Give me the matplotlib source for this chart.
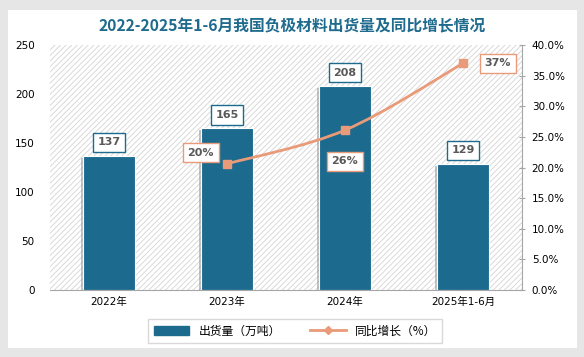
import numpy as np
import matplotlib
matplotlib.use("Agg")
import matplotlib.pyplot as plt
from matplotlib.patches import Rectangle, PathPatch, Patch
from matplotlib.lines import Line2D
from matplotlib.path import Path
from matplotlib.ticker import PercentFormatter
import matplotlib.patheffects as pe

plt.rcParams['font.family'] = ['DejaVu Sans', 'Noto Sans CJK SC']
plt.rcParams['hatch.linewidth'] = 0.6

# 数据
years = ['2022年', '2023年', '2024年', '2025年1-6月']
shipment = [137, 165, 208, 129]          # 出货量（万吨）
growth_years = [1, 2, 3]                  # 2023, 2024, 2025年1-6月
growth = [20.6, 26.1, 37.0]               # 同比增长（%）
growth_labels = ['20%', '26%', '37%']

bar_color = '#1c6b8f'
line_color = '#e99a78'
label_color = '#595959'

fig = plt.figure(figsize=(5.84, 3.57), dpi=100)
fig.patch.set_facecolor('#e6e6e6')
# 白色卡片
fig.add_artist(Rectangle((8/584, 1 - 348/357), 569/584, 338/357, transform=fig.transFigure,
                         facecolor='white', edgecolor='none', zorder=0))

ax = fig.add_axes([50/584, 1 - 290/357, 472/584, 245/357])
ax.set_facecolor('none')
ax.add_patch(Rectangle((0, 0), 1, 1, transform=ax.transAxes, facecolor='white',
                       edgecolor='#d4d4d4', hatch='//////', linewidth=0, zorder=0))

x = np.arange(len(years))
ax.bar(x, shipment, width=0.44, color=bar_color, edgecolor='white', linewidth=0.8, zorder=2,
       path_effects=[pe.SimplePatchShadow(offset=(-1.5, -1.5), shadow_rgbFace='#888888', alpha=0.5),
                     pe.Normal()])
ax.set_xlim(-0.5, 3.5)
ax.set_ylim(0, 250)
ax.set_yticks(range(0, 251, 50))
ax.set_xticks(x)
ax.set_xticklabels(years)
ax.tick_params(axis='y', length=0, labelsize=7.5, pad=11)
ax.tick_params(axis='x', length=0, labelsize=7.5, pad=5)
for s in ['top', 'right', 'left']:
    ax.spines[s].set_visible(False)
ax.spines['bottom'].set_color('#a6a6a6')

for xi, v in zip(x, shipment):
    ax.annotate(str(v), (xi, v), xytext=(0, 6), textcoords='offset points',
                ha='center', va='bottom', fontsize=8, fontweight='bold', color=label_color,
                bbox=dict(boxstyle='square,pad=0.42', fc='white', ec=bar_color, lw=1.0), zorder=5)

ax2 = ax.twinx()
ax2.set_ylim(0, 40)
ax2.set_yticks(np.arange(0, 40.1, 5))
ax2.yaxis.set_major_formatter(PercentFormatter(decimals=1))
ax2.tick_params(axis='y', direction='inout', length=4, color='#a6a6a6', labelsize=7.5, pad=5)
for s in ['top', 'left', 'bottom']:
    ax2.spines[s].set_visible(False)
ax2.spines['right'].set_color('#a6a6a6')

# 平滑曲线（Catmull-Rom -> Bezier）
pts = list(zip(growth_years, growth))
verts = [pts[0]]
codes = [Path.MOVETO]
for i in range(len(pts) - 1):
    p0 = pts[i - 1] if i > 0 else pts[i]
    p1 = pts[i]
    p2 = pts[i + 1]
    p3 = pts[i + 2] if i + 2 < len(pts) else pts[i + 1]
    c1 = (p1[0] + (p2[0] - p0[0]) / 6, p1[1] + (p2[1] - p0[1]) / 6)
    c2 = (p2[0] - (p3[0] - p1[0]) / 6, p2[1] - (p3[1] - p1[1]) / 6)
    verts += [c1, c2, p2]
    codes += [Path.CURVE4] * 3
ax2.add_patch(PathPatch(Path(verts, codes), fc='none', ec=line_color, lw=2, zorder=3))
ax2.plot(growth_years, growth, ls='none', marker='s', ms=6, color=line_color, zorder=4)

offsets = [(-19, 8), (0, -22.5), (25, 0)]
for xi, v, lab, off in zip(growth_years, growth, growth_labels, offsets):
    ax2.annotate(lab, (xi, v), xytext=off, textcoords='offset points',
                 ha='center', va='center', fontsize=8, fontweight='bold', color=label_color,
                 bbox=dict(boxstyle='square,pad=0.42', fc='white', ec=line_color, lw=1.0), zorder=5)

fig.text(292/584, 1 - 26/357, '2022-2025年1-6月我国负极材料出货量及同比增长情况', ha='center', va='center',
         fontsize=11.3, fontweight='bold', color='#1f6b8e', family='Noto Sans CJK SC')

handles = [Patch(color=bar_color), Line2D([], [], color=line_color, lw=2, marker='D', ms=4)]
fig.legend(handles, ['出货量（万吨）', '同比增长（%）'], loc='center', bbox_to_anchor=(295/584, 1 - 331/357),
           ncol=2, prop={'family': 'Noto Sans CJK SC', 'size': 8.5}, frameon=True, fancybox=False,
           edgecolor='#d0d0d0', handlelength=3, columnspacing=2.5, borderpad=0.5)

fig.savefig('out.png', dpi=100)
